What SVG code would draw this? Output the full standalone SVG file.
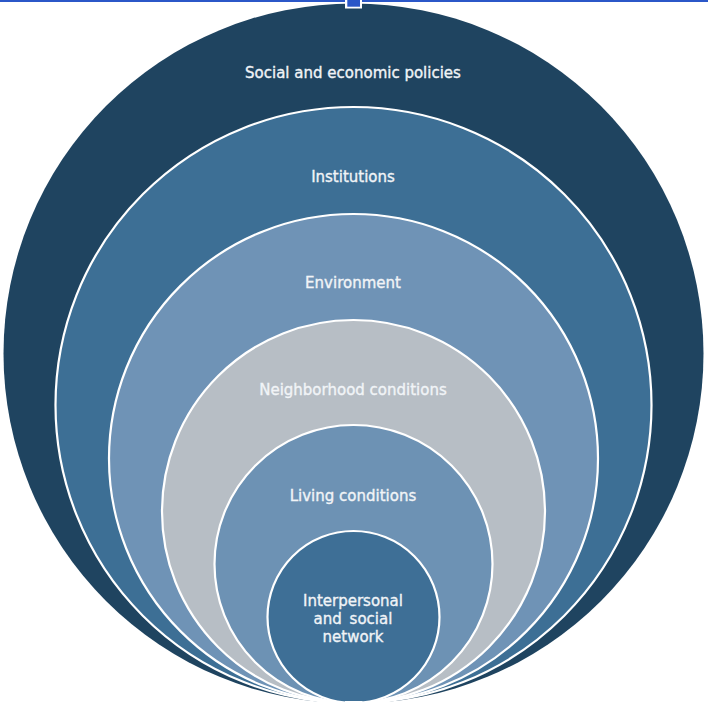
<svg xmlns="http://www.w3.org/2000/svg" width="708" height="702" viewBox="0 0 708 702">
  <style>
    .ring { stroke: #ffffff; stroke-width: 2.2; }
    .lbl { font-family: "DejaVu Sans", "Liberation Sans", sans-serif; font-size: 15px; fill: #f1f4f7; stroke: #f1f4f7; stroke-width: 0.35; text-anchor: middle; }
  </style>
  <rect width="708" height="702" fill="#ffffff"/>
  <g id="outer-policies">
    <circle cx="353.5" cy="353.5" r="350" fill="#1f4460"/>
    <text class="lbl" x="353" y="77.5">Social and economic policies</text>
  </g>
  <g id="institutions">
    <circle class="ring" cx="353.5" cy="405" r="298" fill="#3d6f95"/>
    <text class="lbl" x="353" y="181.5">Institutions</text>
  </g>
  <g id="environment">
    <circle class="ring" cx="353.5" cy="458.5" r="244.5" fill="#6f93b6"/>
    <text class="lbl" x="353" y="288">Environment</text>
  </g>
  <g id="neighborhood">
    <circle class="ring" cx="353.5" cy="511.5" r="191.5" fill="#b7bec5"/>
    <text class="lbl" x="353" y="395">Neighborhood conditions</text>
  </g>
  <g id="living">
    <circle class="ring" cx="353.5" cy="564" r="139" fill="#6d92b4"/>
    <text class="lbl" x="353" y="501">Living conditions</text>
  </g>
  <g id="interpersonal">
    <circle class="ring" cx="353.5" cy="617" r="86" fill="#3e6f96"/>
    <text class="lbl" x="353" y="606">Interpersonal</text>
    <text class="lbl" x="353" y="624" word-spacing="3">and social</text>
    <text class="lbl" x="353" y="642">network</text>
  </g>
  <g id="connectors"></g>
  <g id="selection-frame">
    <rect x="0" y="0" width="708" height="2" fill="#2b57c8"/>
    <rect x="345" y="0" width="17" height="8.5" fill="#ffffff"/>
    <rect x="347.3" y="0" width="12.7" height="6.7" fill="#2b57c8"/>
    <rect x="345" y="701" width="17.5" height="1" fill="#ffffff"/>
  </g>
</svg>
